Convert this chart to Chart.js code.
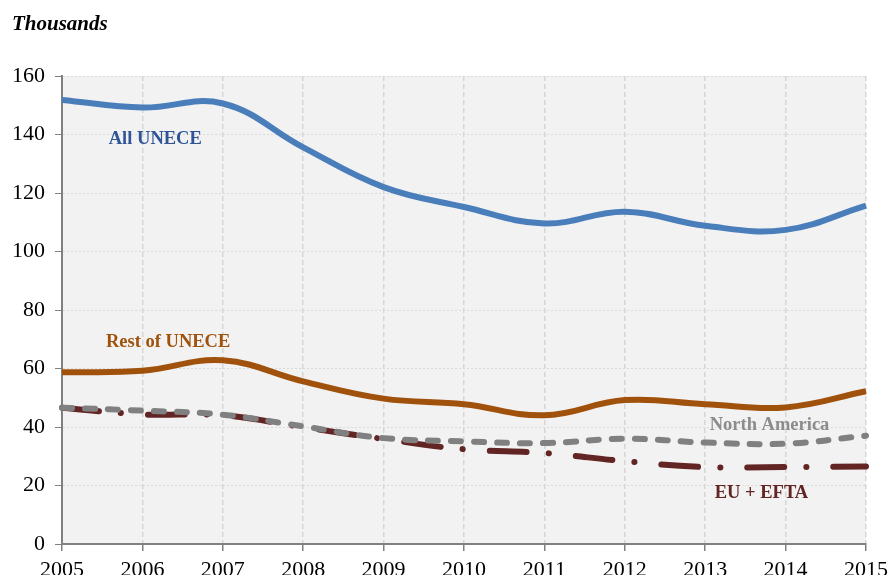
<!DOCTYPE html>
<html>
<head>
<meta charset="utf-8">
<script src="https://cdn.jsdelivr.net/npm/chart.js@4/dist/chart.umd.min.js"></script>
<style>
    html, body { margin: 0; padding: 0; background: #fff; }
    #wrap { width: 889px; height: 575px; position: relative; }
</style>
</head>
<body>
<div id="wrap"><canvas id="myChart"></canvas></div>
<script>
// years on the x axis
const years = ['2005', '2006', '2007', '2008', '2009', '2010', '2011', '2012', '2013', '2014', '2015'];

// series, thousands
const allUnece = [151.8, 149.2, 150.6, 135.6, 122.0, 115.2, 109.6, 113.6, 108.8, 107.4, 115.7];
const restOfUnece = [58.7, 59.2, 62.8, 55.6, 49.7, 47.8, 44.0, 49.2, 47.8, 46.7, 52.2];
const northAmerica = [46.6, 45.6, 44.2, 40.2, 36.2, 35.1, 34.5, 36.0, 34.7, 34.3, 37.0];
const euEfta = [46.6, 44.3, 44.0, 39.9, 35.9, 32.4, 31.1, 28.3, 26.3, 26.3, 26.5];

// y axis ticks
const yTicks = [0, 20, 40, 60, 80, 100, 120, 140, 160];

const serif = '"Liberation Serif", "Times New Roman", serif';

// text labels placed on the series (x as year index, y in thousands)
const seriesLabels = [
    { text: 'All UNECE', x: 1.16, y: 138.5, color: '#2f5597' },
    { text: 'Rest of UNECE', x: 1.32, y: 69, color: '#a0520d' },
    { text: 'North America', x: 8.8, y: 40.7, color: '#8c8c8c' },
    { text: 'EU + EFTA', x: 8.7, y: 17.4, color: '#632523' }
];

const plotBackground = {
    id: 'plotBackground',
    beforeDraw(chart) {
        const { ctx, chartArea } = chart;
        ctx.save();
        ctx.fillStyle = '#f2f2f2';
        ctx.fillRect(chartArea.left, chartArea.top, chartArea.right - chartArea.left, chartArea.bottom - chartArea.top);
        ctx.restore();
    }
};

const textLabels = {
    id: 'textLabels',
    afterDraw(chart) {
        const ctx = chart.ctx;
        const xs = chart.scales.x;
        const ys = chart.scales.y;

        ctx.save();
        ctx.textBaseline = 'middle';
        ctx.textAlign = 'center';
        ctx.font = 'bold 18.5px ' + serif;
        seriesLabels.forEach(l => {
            ctx.fillStyle = l.color;
            ctx.fillText(l.text, xs.getPixelForValue(l.x), ys.getPixelForValue(l.y));
        });

        ctx.textAlign = 'left';
        ctx.fillStyle = '#000';
        ctx.font = 'italic bold 21px ' + serif;
        ctx.fillText('Thousands', 12, 25);
        ctx.restore();
    }
};

let canvas = document.getElementById('myChart');
let ctx = canvas.getContext('2d');

let chart = new Chart(ctx, {
    type: 'line',
    data: {
        labels: years,
        datasets: [
            {
                label: 'North America',
                data: northAmerica,
                borderColor: '#808080',
                borderWidth: 6,
                borderDash: [10, 13],
                borderCapStyle: 'round',
                pointRadius: 0,
                tension: 0.4
            },
            {
                label: 'EU + EFTA',
                data: euEfta,
                borderColor: '#632523',
                borderWidth: 6,
                borderDash: [37, 22, 0.1, 27],
                borderCapStyle: 'round',
                pointRadius: 0,
                tension: 0.4
            },
            {
                label: 'Rest of UNECE',
                data: restOfUnece,
                borderColor: '#a0520d',
                borderWidth: 6,
                pointRadius: 0,
                tension: 0.4
            },
            {
                label: 'All UNECE',
                data: allUnece,
                borderColor: '#4a7ebb',
                borderWidth: 6,
                pointRadius: 0,
                tension: 0.4
            }
        ]
    },
    options: {
        responsive: true,
        maintainAspectRatio: false,
        animation: false,
        layout: { padding: { top: 76, right: 23, left: 0, bottom: 0 } },
        plugins: {
            legend: { display: false },
            tooltip: { enabled: false }
        },
        scales: {
            x: {
                offset: false,
                grid: {
                    color: '#d6d6d6',
                    lineWidth: 1.5,
                    tickColor: '#808080',
                    tickLength: 7
                },
                border: { color: '#808080', width: 2, dash: [5, 3] },
                ticks: {
                    color: '#000',
                    font: { family: serif, size: 22 },
                    padding: 6,
                    maxRotation: 0,
                    autoSkip: false
                },
                afterFit(scale) {
                    scale.height = 31;
                    scale.paddingLeft = 0;
                    scale.paddingRight = 0;
                }
            },
            y: {
                min: 0,
                max: 160,
                grid: {
                    color: '#d9d9d9',
                    lineWidth: 1,
                    tickColor: '#808080',
                    tickLength: 7
                },
                border: { color: '#808080', width: 2, dash: [2, 2] },
                afterBuildTicks(scale) {
                    scale.ticks = yTicks.map(v => ({ value: v }));
                },
                ticks: {
                    color: '#000',
                    font: { family: serif, size: 22 },
                    padding: 10
                },
                afterFit(scale) { scale.width = 62; }
            }
        }
    },
    plugins: [plotBackground, textLabels]
});
</script>
</body>
</html>
